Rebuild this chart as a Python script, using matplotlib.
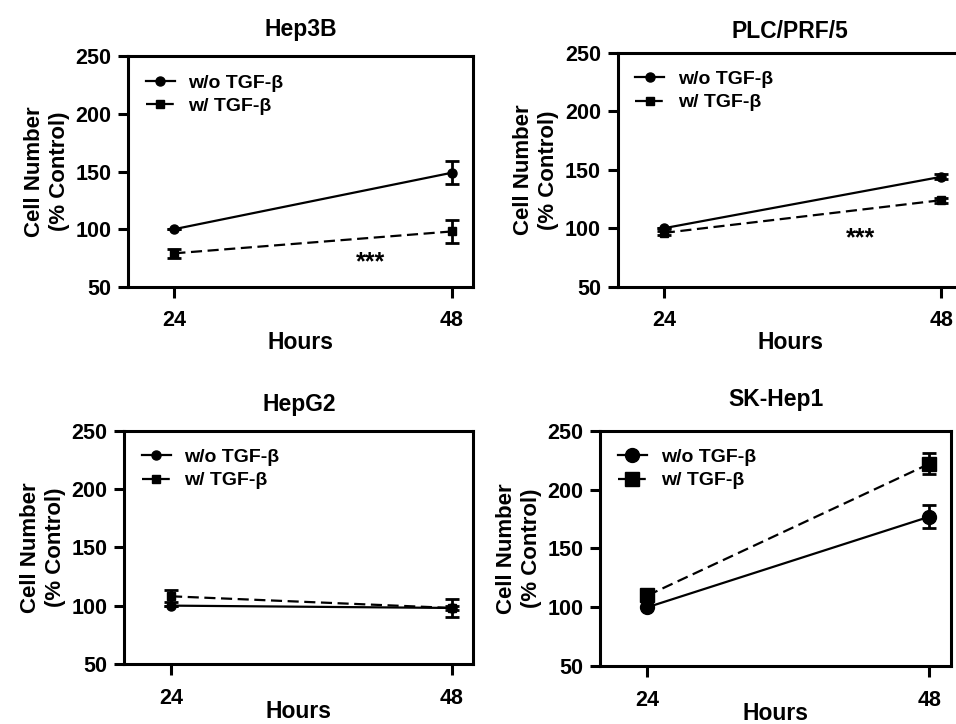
import matplotlib
matplotlib.use("Agg")
import matplotlib.pyplot as plt

plt.rcParams['font.family'] = ['Liberation Sans', 'DejaVu Sans']
plt.rcParams['font.weight'] = 'bold'

hours = [24, 48]
titles = ['Hep3B', 'PLC/PRF/5', 'HepG2', 'SK-Hep1']

without_tgf = [[100, 149], [100, 144], [100, 98], [100, 177]]
without_err = [[0, 10], [0, 2], [0, 2], [0, 10]]
with_tgf = [[79, 98], [96, 124], [108, 98], [110, 222]]
with_err = [[4, 10], [2, 2], [5, 8], [3, 9]]

stars = [(41, 71), (41, 91), None, None]

# axes boxes in figure fractions: left, bottom, width, height
boxes = [
    [0.134, 0.604, 0.361, 0.318],
    [0.646, 0.604, 0.361, 0.323],
    [0.130, 0.083, 0.365, 0.322],
    [0.628, 0.080, 0.367, 0.325],
]
marker_sizes = [6.5, 6.5, 6.5, 10]
title_pads = [15, 11, 14, 18]
xlabel_pads = [0, 0, -6, -6]

fig = plt.figure(figsize=(9.56, 7.24), dpi=100)

for i in range(4):
    ax = fig.add_axes(boxes[i])
    ms = marker_sizes[i]
    eb1 = ax.errorbar(hours, without_tgf[i], yerr=without_err[i], color='black',
                      marker='o', markersize=ms, linewidth=1.6, capsize=5,
                      capthick=2, elinewidth=2)
    eb2 = ax.errorbar(hours, with_tgf[i], yerr=with_err[i], color='black',
                      marker='s', markersize=ms - 0.5, linewidth=1.6, capsize=5,
                      capthick=2, elinewidth=2, dashes=(5, 2.5))
    if stars[i]:
        ax.text(stars[i][0], stars[i][1], '***', ha='center', va='center',
                fontsize=18, fontweight='bold')

    ax.set_xlim(20, 49.85)
    ax.set_ylim(50, 250)
    ax.set_xticks(hours)
    ax.set_yticks([50, 100, 150, 200, 250])
    for s in ax.spines.values():
        s.set_linewidth(2.2)
    ax.tick_params(axis='y', length=7, width=2.2, labelsize=15.5, pad=5)
    ax.tick_params(axis='x', length=8, width=2.2, labelsize=15.5, pad=9)
    for lab in ax.get_xticklabels() + ax.get_yticklabels():
        lab.set_fontweight('bold')

    ax.set_title(titles[i], fontsize=16.5, fontweight='bold', pad=title_pads[i])
    ax.set_xlabel('Hours', fontsize=16.5, fontweight='bold',
                  labelpad=xlabel_pads[i])
    ax.set_ylabel('Cell Number\n(% Control)', fontsize=16, fontweight='bold',
                  linespacing=1.25, labelpad=4)

    ax.legend([eb1.lines[0], eb2.lines[0]], ['w/o TGF-β', 'w/ TGF-β'],
              loc='upper left', frameon=False, handlelength=1.5,
              handletextpad=0.7, labelspacing=0.3, borderaxespad=0.5,
              prop={'weight': 'bold', 'size': 14})

fig.savefig('out.png', dpi=100)
